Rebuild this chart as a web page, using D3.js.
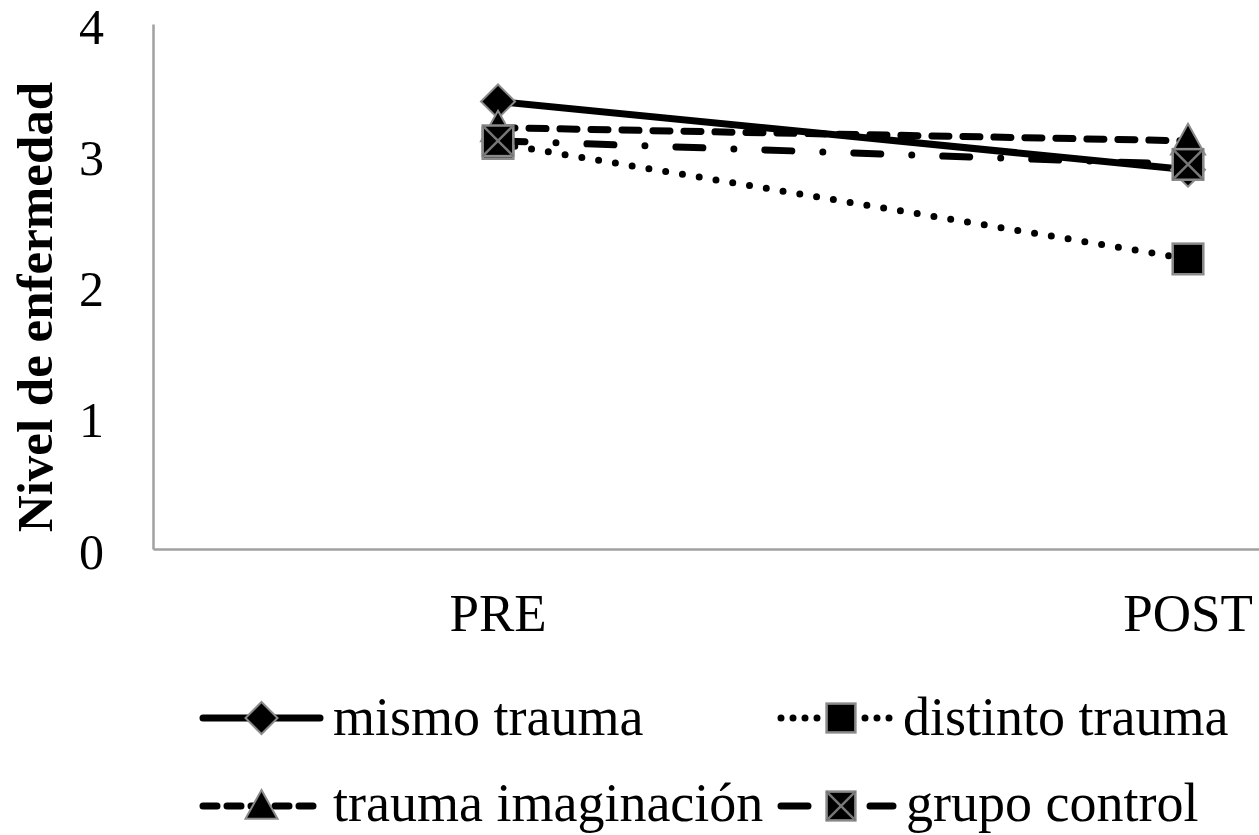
<!DOCTYPE html>
<html>
<head>
<meta charset="utf-8">
<script src="https://cdn.jsdelivr.net/npm/d3@7"></script>
<style>
  body { margin: 0; background: #fff; }
  svg { display: block; font-family: "Liberation Serif", "Times New Roman", serif; }
</style>
</head>
<body>
<svg id="chart" width="1259" height="835"></svg>
<script>
// data
var categories = ["PRE", "POST"];
var seriesNames = ["mismo trauma", "distinto trauma", "trauma imaginación", "grupo control"];
var mismoTrauma = [3.41, 2.89];
var distintoTrauma = [3.09, 2.21];
var traumaImaginacion = [3.21, 3.11];
var grupoControl = [3.11, 2.93];
var yTicks = [0, 1, 2, 3, 4];

var svg = d3.select("#chart"),
    width = +svg.attr("width"),
    height = +svg.attr("height");

// plot area goes on past the right edge like the original crop
var x = d3.scaleBand().domain(categories).range([153, 153 + 1380]).padding(0);
var y = d3.scaleLinear().domain([0, 4]).range([549, 24]);

var series = [
  {name: seriesNames[0], values: mismoTrauma, dash: null, marker: "diamond"},
  {name: seriesNames[1], values: distintoTrauma, dash: "0,17", marker: "square"},
  {name: seriesNames[2], values: traumaImaginacion, dash: "17,14", marker: "triangle"},
  {name: seriesNames[3], values: grupoControl, dash: "27,31,0,31", marker: "squarex"}
];

function cx(c) { return x(c) + x.bandwidth() / 2; }

function drawMarker(g, type, px, py, s) {
  var stroke = "#8a8a8a";
  if (type == "diamond") {
    g.append("path")
      .attr("d", "M" + px + "," + (py - s) + "L" + (px + s) + "," + py + "L" + px + "," + (py + s) + "L" + (px - s) + "," + py + "Z")
      .attr("fill", "#000").attr("stroke", stroke).attr("stroke-width", 2);
  } else if (type == "square" || type == "squarex") {
    var h = s * 0.9;
    g.append("rect")
      .attr("x", px - h).attr("y", py - h).attr("width", 2 * h).attr("height", 2 * h)
      .attr("fill", "#000").attr("stroke", stroke).attr("stroke-width", 2.5);
    if (type == "squarex") {
      g.append("path")
        .attr("d", "M" + (px - h) + "," + (py - h) + "L" + (px + h) + "," + (py + h) + "M" + (px + h) + "," + (py - h) + "L" + (px - h) + "," + (py + h))
        .attr("stroke", "#777").attr("stroke-width", 2.5).attr("fill", "none");
    }
  } else if (type == "triangle") {
    g.append("path")
      .attr("d", "M" + px + "," + (py - s) + "L" + (px + s) + "," + (py + s * 0.8) + "L" + (px - s) + "," + (py + s * 0.8) + "Z")
      .attr("fill", "#000").attr("stroke", stroke).attr("stroke-width", 2);
  }
}

// axes
var yAxis = svg.append("g")
    .attr("transform", "translate(153,0)")
    .call(d3.axisLeft(y).tickValues(yTicks).tickSize(0).tickSizeOuter(0).tickPadding(49).tickFormat(d3.format("d")));
yAxis.select(".domain").attr("stroke", "#a0a0a0").attr("stroke-width", 2.5);
yAxis.selectAll("text").attr("font-size", 50).attr("fill", "#000")
    .attr("font-family", "Liberation Serif").attr("dy", "0.38em");

var xAxis = svg.append("g")
    .attr("transform", "translate(0,549)")
    .call(d3.axisBottom(x).tickSize(0).tickSizeOuter(0));
xAxis.select(".domain").attr("stroke", "#a0a0a0").attr("stroke-width", 2.5);
xAxis.selectAll("text").attr("font-size", 53).attr("fill", "#000")
    .attr("font-family", "Liberation Serif").attr("y", 82).attr("dy", 0);

svg.append("text")
    .attr("transform", "translate(52,307) rotate(-90)")
    .attr("text-anchor", "middle")
    .attr("font-size", 51)
    .attr("font-weight", "bold")
    .text("Nivel de enfermedad");

// lines
var line = d3.line()
    .x(function(d, i) { return cx(categories[i]); })
    .y(function(d) { return y(d); });

series.forEach(function(s) {
  var g = svg.append("g");
  g.append("path")
    .datum(s.values)
    .attr("d", line)
    .attr("fill", "none")
    .attr("stroke", "#000")
    .attr("stroke-width", 7)
    .attr("stroke-linecap", "round")
    .attr("stroke-dasharray", s.dash);
  s.values.forEach(function(v, i) {
    drawMarker(g, s.marker, cx(categories[i]), y(v), 17);
  });
});

// legend
var legendPos = [[200, 718], [778, 718], [200, 806], [778, 806]];
var legendLen = [123, 115, 123, 118];
var legendDash = [null, "0,12", "14,10", "27,31,0,31"];
var legendBase = [17, 17, 15, 15];

series.forEach(function(s, i) {
  var lx = legendPos[i][0], ly = legendPos[i][1];
  var g = svg.append("g").attr("class", "legend");
  g.append("line")
    .attr("x1", lx + 3).attr("x2", lx + legendLen[i] - 3)
    .attr("y1", ly).attr("y2", ly)
    .attr("stroke", "#000").attr("stroke-width", 7)
    .attr("stroke-linecap", "round")
    .attr("stroke-dasharray", legendDash[i]);
  var mx = (i == 1 || i == 3) ? lx + 63 : lx + legendLen[i] / 2;
  var mg = g.append("g");
  if (i == 1 || i == 3) {
    mg.append("rect").attr("x", mx - 20).attr("y", ly - 18).attr("width", 40).attr("height", 36).attr("fill", "#fff");
  }
  drawMarker(mg, s.marker, mx, ly, 16);
  g.append("text")
    .attr("x", lx + legendLen[i] + 10)
    .attr("y", ly + legendBase[i])
    .attr("font-size", 54)
    .text(s.name);
});
</script>
</body>
</html>
